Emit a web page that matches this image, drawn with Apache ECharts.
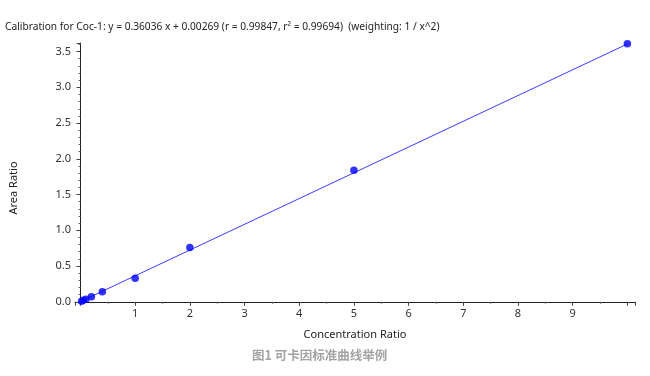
<!DOCTYPE html>
<html>
<head>
<meta charset="utf-8">
<script src="https://cdn.jsdelivr.net/npm/echarts@6/dist/echarts.min.js"></script>
<style>
  html, body { margin: 0; padding: 0; background: #fff; }
  #main { width: 650px; height: 376px; }
</style>
</head>
<body>
<div id="main"></div>
<script>
// calibration points
const concRatio = [0.02, 0.05, 0.1, 0.2, 0.4, 1, 2, 5, 10];
const areaRatio = [0.008, 0.02, 0.035, 0.07, 0.14, 0.33, 0.76, 1.84, 3.61];
// fitted line ends (y = 0.36036 x + 0.00269)
const fitX = [0, 10];
const fitY = [0.003, 3.606];
const titleText = 'Calibration for Coc-1: y = 0.36036 x + 0.00269 (r = 0.99847, r\u00b2 = 0.99694)  (weighting: 1 / x^2)';
const captionText = '图1 可卡因标准曲线举例';

const chart = echarts.init(document.getElementById('main'));
const font = 'Noto Sans';

const option = {
  animation: false,
  title: {
    text: titleText,
    left: 0,
    top: 17,
    textStyle: { fontFamily: font, fontSize: 10.2, fontWeight: 'normal', color: '#222' }
  },
  grid: { left: 75, right: 15, top: 43, bottom: 73.5 },
  xAxis: {
    type: 'value',
    min: -0.1,
    max: 10.14,
    minInterval: 1,
    maxInterval: 1,
    name: 'Concentration Ratio',
    nameLocation: 'middle',
    nameGap: 27,
    nameTextStyle: { fontFamily: font, fontSize: 11, color: '#222' },
    axisLine: { lineStyle: { color: '#222', width: 1 } },
    axisTick: { length: 4, lineStyle: { color: '#444' } },
    minorTick: { show: true, splitNumber: 2, length: 2, lineStyle: { color: '#666' } },
    splitLine: { show: false },
    axisLabel: {
      fontFamily: font, fontSize: 11, color: '#333', margin: 6,
      showMinLabel: false, showMaxLabel: false,
      formatter: v => (Math.abs(v - Math.round(v)) < 1e-6 && v > 0.5 && v < 9.5) ? String(Math.round(v)) : ''
    }
  },
  yAxis: {
    type: 'value',
    min: -0.01,
    max: 3.62,
    minInterval: 0.5,
    maxInterval: 0.5,
    axisLine: { show: true, lineStyle: { color: '#222', width: 1 } },
    axisTick: { show: true, length: 4, lineStyle: { color: '#444' } },
    minorTick: { show: true, splitNumber: 5, length: 2, lineStyle: { color: '#666' } },
    splitLine: { show: false },
    axisLabel: {
      fontFamily: font, fontSize: 11, color: '#333', margin: 4,
      showMinLabel: false, showMaxLabel: false,
      formatter: v => (Math.abs(v * 2 - Math.round(v * 2)) < 1e-6 && v > -0.001) ? v.toFixed(1) : ''
    }
  },
  graphic: [
    {
      type: 'text',
      x: 14, y: 188,
      rotation: Math.PI / 2,
      style: {
        text: 'Area Ratio', fontFamily: font, fontSize: 11, fill: '#222',
        align: 'center', verticalAlign: 'middle'
      }
    },
    {
      type: 'text',
      left: 252, top: 349,
      style: {
        text: captionText, fontFamily: 'Noto Sans CJK SC', fontSize: 12.5,
        fontWeight: 'bold', fill: '#a3a3a3'
      }
    }
  ],
  series: [
    {
      type: 'line',
      data: fitX.map((x, i) => [x, fitY[i]]),
      showSymbol: false,
      lineStyle: { color: '#3a3aff', width: 1 },
      z: 2
    },
    {
      type: 'scatter',
      data: concRatio.map((x, i) => [x, areaRatio[i]]),
      symbolSize: 7.5,
      itemStyle: { color: '#0000ff' },
      z: 3
    }
  ]
};
chart.setOption(option);
</script>
</body>
</html>
